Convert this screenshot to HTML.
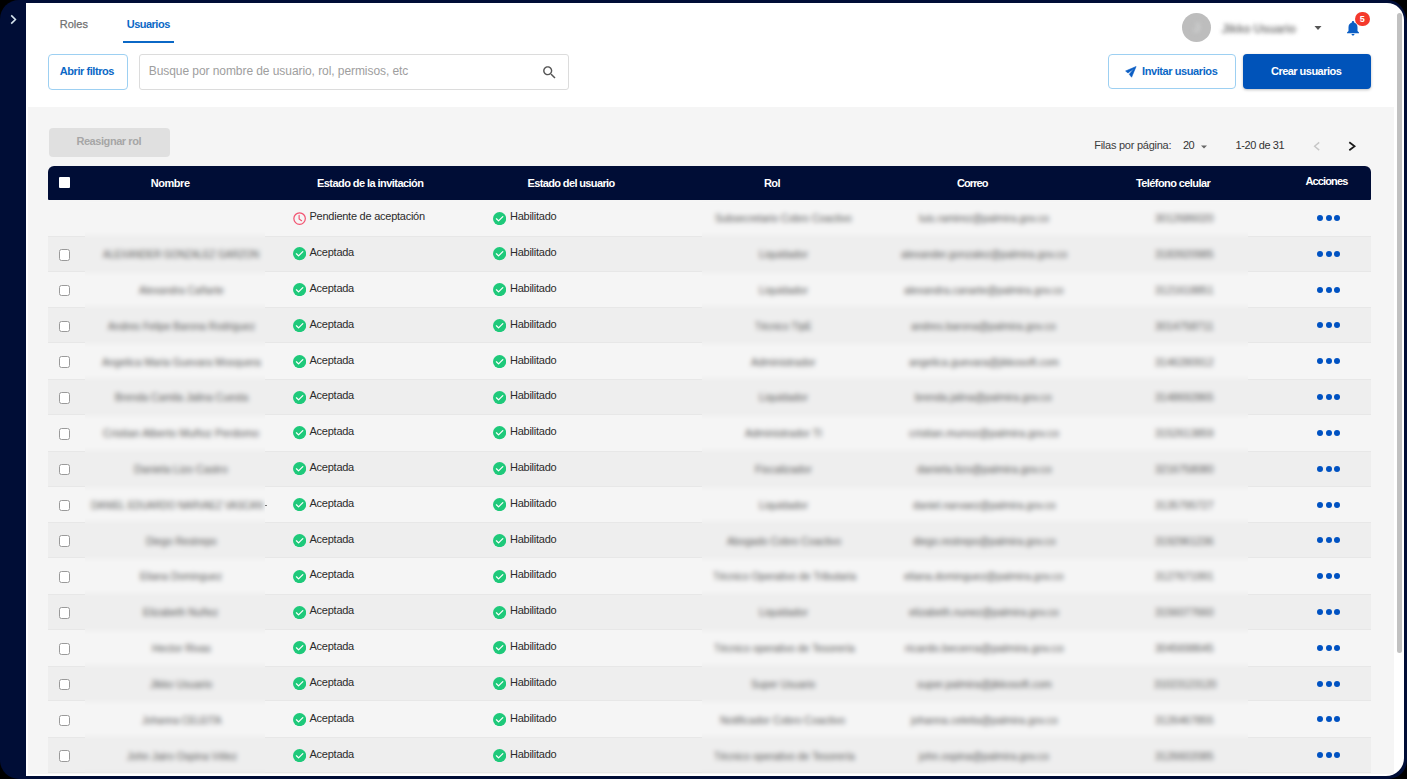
<!DOCTYPE html>
<html><head><meta charset="utf-8">
<style>
html,body{margin:0;padding:0;}
body{width:1407px;height:779px;overflow:hidden;background:#000;position:relative;font-family:"Liberation Sans",sans-serif;}
.frame{position:absolute;left:0;top:0;width:1407px;height:779px;background:#000d36;border-radius:19px 19px 19px 19px / 19px 24px 19px 19px;}
.panel{position:absolute;left:26px;top:3px;width:1378px;height:773px;background:#fff;border-radius:0 17px 18px 0;overflow:hidden;}
.grey{position:absolute;left:0;top:103px;width:1368px;height:670px;background:#f5f5f5;}
.t{position:absolute;white-space:nowrap;line-height:11px;font-size:11px;}
.row{position:absolute;left:48px;width:1323px;height:35.82px;background:#f5f5f5;}
.row.even{background:#eeeeee;box-shadow:inset 0 1px 0 #e7e7e7, inset 0 -1px 0 #e7e7e7;}
.cb{position:absolute;left:58.6px;width:11.4px;height:11.6px;box-sizing:border-box;border:1.25px solid #9a9a9a;border-radius:2.5px;background:#fff;}
.ic{position:absolute;width:13.2px;height:13.2px;}
.ic svg{display:block}
.td{color:#2b2b2b;letter-spacing:-0.25px;}
.dots{position:absolute;left:1317px;width:24px;height:6px;}
.dots i{position:absolute;top:0;width:6px;height:6px;border-radius:50%;background:#0052c2;}
.dots i:nth-child(1){left:0} .dots i:nth-child(2){left:8.6px} .dots i:nth-child(3){left:17.2px}
.bt{position:absolute;height:12px;font-size:11px;line-height:12px;color:#5a5a5a;text-align:left;white-space:nowrap;}
.bw{position:absolute;overflow:hidden;}
.bi{position:absolute;filter:blur(2.4px);}
.bu{position:absolute;height:12px;font-size:12px;line-height:12px;color:#858585;font-weight:700;letter-spacing:-0.35px;filter:blur(1.9px);white-space:nowrap;}
.th{position:absolute;white-space:nowrap;line-height:11px;font-size:11px;font-weight:700;color:#fff;}
</style></head><body>
<div class="frame"></div>
<svg style="position:absolute;left:9px;top:14px" width="9" height="11" viewBox="0 0 9 11"><path d="M2.2 1.4L6.4 5.5 2.2 9.6" stroke="#d5e4ee" stroke-width="1.6" fill="none"/></svg>
<div class="panel"><div class="grey" style="left:2px;top:104px;width:1366px;height:667px;"></div></div>
<!-- scrollbar -->
<div style="position:absolute;left:1396.7px;top:13px;width:5.6px;height:640px;border-radius:3px;background:#c1c1c1"></div>

<!-- tabs -->
<div class="t" style="left:59.8px;top:18.89px;color:#707070;-webkit-text-stroke:0.25px #707070">Roles</div>
<div class="t" style="left:126.7px;top:18.89px;color:#0b68c6;font-weight:700;letter-spacing:-0.5px">Usuarios</div>
<div style="position:absolute;left:123px;top:41px;width:51px;height:2px;background:#0b68c6"></div>

<!-- filter button -->
<div style="position:absolute;left:48px;top:54px;width:77.5px;height:33.5px;border:1px solid #9dd0f2;border-radius:4px;background:#fff"></div>
<div class="t" style="left:59.8px;top:65.59px;color:#0b68c6;font-weight:700;letter-spacing:-0.44px">Abrir filtros</div>
<!-- search -->
<div style="position:absolute;left:139px;top:54px;width:427.5px;height:33.5px;border:1px solid #dcdcdc;border-radius:3px;background:#fff"></div>
<div class="t" style="left:148.8px;top:65.44px;font-size:12px;line-height:12px;color:#9e9e9e;letter-spacing:-0.07px">Busque por nombre de usuario, rol, permisos, etc</div>
<svg style="position:absolute;left:540.7px;top:63.5px" width="17" height="17" viewBox="0 0 24 24"><path fill="#555" d="M15.5 14h-.79l-.28-.27C15.41 12.59 16 11.11 16 9.5 16 5.91 13.09 3 9.5 3S3 5.91 3 9.5 5.91 16 9.5 16c1.61 0 3.09-.59 4.23-1.57l.27.28v.79l5 4.99L20.49 19l-4.99-5zm-6 0C7.01 14 5 11.99 5 9.5S7.01 5 9.5 5 14 7.01 14 9.5 11.99 14 9.5 14z"/></svg>

<!-- user -->
<div style="position:absolute;left:1181.8px;top:13.3px;width:29.2px;height:29.2px;border-radius:50%;background:#bdbdbd"></div>
<div style="position:absolute;left:1190.5px;top:21px;width:12px;height:14px;color:#d4d6d6;font-size:13px;line-height:14px;font-weight:700;filter:blur(2px);text-align:center">J</div>
<div class="bu" style="left:1221.5px;top:22.5px;width:80px;">Jikko Usuario</div>
<svg style="position:absolute;left:1312px;top:22px" width="12" height="12" viewBox="0 0 24 24"><path fill="#555" d="M5 8l7 8 7-8z"/></svg>
<svg style="position:absolute;left:1344px;top:19px" width="18" height="18" viewBox="0 0 24 24"><path fill="#0b5ec4" d="M12 22c1.1 0 2-.9 2-2h-4c0 1.1.89 2 2 2zm6-6v-5c0-3.07-1.64-5.64-4.5-6.32V4c0-.83-.67-1.5-1.5-1.5s-1.5.67-1.5 1.5v.68C7.63 5.36 6 7.92 6 11v5l-2 2v1h16v-1l-2-2z"/></svg>
<div style="position:absolute;left:1355px;top:11.6px;width:14.7px;height:14.7px;border-radius:50%;background:#f4392c;color:#fff;font-size:9px;font-weight:700;line-height:14.7px;text-align:center">5</div>

<!-- right buttons -->
<div style="position:absolute;left:1107.8px;top:54.3px;width:126px;height:33px;border:1px solid #9dd0f2;border-radius:4px;background:#fff"></div>
<svg style="position:absolute;left:1124.5px;top:66px" width="12" height="12" viewBox="0 0 12 12"><path fill="#0b5ec4" stroke="#0b5ec4" stroke-width="0.6" stroke-linejoin="round" d="M11.1 0.5L0.6 5.0 3.0 7.0 8.9 2.7 4.3 8.3 6.6 11.2z"/></svg>
<div class="t" style="left:1142px;top:65.89px;color:#0b68c6;font-weight:700;letter-spacing:-0.41px">Invitar usuarios</div>
<div style="position:absolute;left:1243px;top:54.3px;width:127.8px;height:35px;border-radius:4px;background:#0053b9;box-shadow:0 1px 3px rgba(0,0,0,0.25)"></div>
<div class="t" style="left:1271px;top:65.89px;color:#fff;font-weight:700;letter-spacing:-0.53px">Crear usuarios</div>

<!-- reasignar -->
<div style="position:absolute;left:48.8px;top:127.6px;width:120.8px;height:29px;border-radius:4px;background:#e0e0e0"></div>
<div class="t" style="left:76.4px;top:135.89px;color:#a6a6a6;font-weight:700;letter-spacing:-0.43px">Reasignar rol</div>

<!-- pagination -->
<div class="t" style="left:1094.2px;top:140.39px;color:#3c3c3c;letter-spacing:-0.25px">Filas por página:</div>
<div class="t" style="left:1183px;top:139.89px;color:#333;letter-spacing:-0.6px">20</div>
<svg style="position:absolute;left:1197.5px;top:140.5px" width="12" height="12" viewBox="0 0 24 24"><path fill="#666" d="M6 9l6 6 6-6z"/></svg>
<div class="t" style="left:1235.6px;top:140.39px;color:#333;letter-spacing:-0.4px">1-20 de 31</div>
<svg style="position:absolute;left:1310px;top:138px" width="14" height="16" viewBox="0 0 14 16"><path d="M9.2 4.4L4.6 8.2 9.2 12.1" stroke="#c6c6c6" stroke-width="1.4" fill="none"/></svg>
<svg style="position:absolute;left:1345px;top:138px" width="14" height="16" viewBox="0 0 14 16"><path d="M4.3 4.3L9.6 8.3 4.3 12.3" stroke="#1a1a1a" stroke-width="1.7" fill="none"/></svg>

<!-- table header -->
<div style="position:absolute;left:48px;top:165.5px;width:1323px;height:34.5px;background:#000d36;border-radius:6px 6px 1px 1px"></div>
<div style="position:absolute;left:58.6px;top:176.7px;width:11.2px;height:11.3px;background:#fff;border-radius:1px"></div>
<div class="th" style="left:150.8px;top:178.09px;letter-spacing:-0.46px">Nombre</div>
<div class="th" style="left:317px;top:178.09px;letter-spacing:-0.56px">Estado de la invitación</div>
<div class="th" style="left:527.5px;top:178.09px;letter-spacing:-0.63px">Estado del usuario</div>
<div class="th" style="left:764px;top:178.09px;letter-spacing:-0.6px">Rol</div>
<div class="th" style="left:957px;top:178.09px;letter-spacing:-0.9px">Correo</div>
<div class="th" style="left:1136px;top:178.09px;letter-spacing:-0.59px">Teléfono celular</div>
<div class="th" style="left:1305.5px;top:176.19px;letter-spacing:-0.88px">Acciones</div>

<!-- rows -->
<div class="row" style="top:200.00px"></div><div class="row even" style="top:235.82px"></div><div class="row" style="top:271.64px"></div><div class="row even" style="top:307.46px"></div><div class="row" style="top:343.28px"></div><div class="row even" style="top:379.10px"></div><div class="row" style="top:414.92px"></div><div class="row even" style="top:450.74px"></div><div class="row" style="top:486.56px"></div><div class="row even" style="top:522.38px"></div><div class="row" style="top:558.20px"></div><div class="row even" style="top:594.02px"></div><div class="row" style="top:629.84px"></div><div class="row even" style="top:665.66px"></div><div class="row" style="top:701.48px"></div><div class="row even" style="top:737.30px"></div><div class="ic" style="left:292.6px;top:211.50px"><svg viewBox="0 0 14 14" width="13.2" height="13.2"><circle cx="7" cy="7" r="6.1" stroke="#f25471" stroke-width="1.3" fill="none"/><path d="M6.5 3.6V7.3l2.6 2" stroke="#f25471" stroke-width="1.2" fill="none" stroke-linecap="round"/></svg></div><div class="t td" style="left:309.5px;top:211.39px">Pendiente de aceptación</div><div class="ic" style="left:492.7px;top:211.50px"><svg viewBox="2 2 20 20" width="13.2" height="13.2"><circle cx="12" cy="12" r="10" fill="#1ec97a"/><path d="M7.2 12.3l3.2 3.1 6.5-6.4" stroke="#fff" stroke-width="1.9" fill="none" stroke-linecap="round" stroke-linejoin="round"/></svg></div><div class="t td" style="left:510px;top:211.29px">Habilitado</div><div class="dots" style="top:215.00px"><i></i><i></i><i></i></div><div class="cb" style="top:248.92px"></div><div class="ic" style="left:292.6px;top:247.32px"><svg viewBox="2 2 20 20" width="13.2" height="13.2"><circle cx="12" cy="12" r="10" fill="#1ec97a"/><path d="M7.2 12.3l3.2 3.1 6.5-6.4" stroke="#fff" stroke-width="1.9" fill="none" stroke-linecap="round" stroke-linejoin="round"/></svg></div><div class="t td" style="left:309.5px;top:247.11px">Aceptada</div><div class="ic" style="left:492.7px;top:247.32px"><svg viewBox="2 2 20 20" width="13.2" height="13.2"><circle cx="12" cy="12" r="10" fill="#1ec97a"/><path d="M7.2 12.3l3.2 3.1 6.5-6.4" stroke="#fff" stroke-width="1.9" fill="none" stroke-linecap="round" stroke-linejoin="round"/></svg></div><div class="t td" style="left:510px;top:247.11px">Habilitado</div><div class="dots" style="top:250.82px"><i></i><i></i><i></i></div><div class="cb" style="top:284.74px"></div><div class="ic" style="left:292.6px;top:283.14px"><svg viewBox="2 2 20 20" width="13.2" height="13.2"><circle cx="12" cy="12" r="10" fill="#1ec97a"/><path d="M7.2 12.3l3.2 3.1 6.5-6.4" stroke="#fff" stroke-width="1.9" fill="none" stroke-linecap="round" stroke-linejoin="round"/></svg></div><div class="t td" style="left:309.5px;top:282.93px">Aceptada</div><div class="ic" style="left:492.7px;top:283.14px"><svg viewBox="2 2 20 20" width="13.2" height="13.2"><circle cx="12" cy="12" r="10" fill="#1ec97a"/><path d="M7.2 12.3l3.2 3.1 6.5-6.4" stroke="#fff" stroke-width="1.9" fill="none" stroke-linecap="round" stroke-linejoin="round"/></svg></div><div class="t td" style="left:510px;top:282.93px">Habilitado</div><div class="dots" style="top:286.64px"><i></i><i></i><i></i></div><div class="cb" style="top:320.56px"></div><div class="ic" style="left:292.6px;top:318.96px"><svg viewBox="2 2 20 20" width="13.2" height="13.2"><circle cx="12" cy="12" r="10" fill="#1ec97a"/><path d="M7.2 12.3l3.2 3.1 6.5-6.4" stroke="#fff" stroke-width="1.9" fill="none" stroke-linecap="round" stroke-linejoin="round"/></svg></div><div class="t td" style="left:309.5px;top:318.75px">Aceptada</div><div class="ic" style="left:492.7px;top:318.96px"><svg viewBox="2 2 20 20" width="13.2" height="13.2"><circle cx="12" cy="12" r="10" fill="#1ec97a"/><path d="M7.2 12.3l3.2 3.1 6.5-6.4" stroke="#fff" stroke-width="1.9" fill="none" stroke-linecap="round" stroke-linejoin="round"/></svg></div><div class="t td" style="left:510px;top:318.75px">Habilitado</div><div class="dots" style="top:322.46px"><i></i><i></i><i></i></div><div class="cb" style="top:356.38px"></div><div class="ic" style="left:292.6px;top:354.78px"><svg viewBox="2 2 20 20" width="13.2" height="13.2"><circle cx="12" cy="12" r="10" fill="#1ec97a"/><path d="M7.2 12.3l3.2 3.1 6.5-6.4" stroke="#fff" stroke-width="1.9" fill="none" stroke-linecap="round" stroke-linejoin="round"/></svg></div><div class="t td" style="left:309.5px;top:354.57px">Aceptada</div><div class="ic" style="left:492.7px;top:354.78px"><svg viewBox="2 2 20 20" width="13.2" height="13.2"><circle cx="12" cy="12" r="10" fill="#1ec97a"/><path d="M7.2 12.3l3.2 3.1 6.5-6.4" stroke="#fff" stroke-width="1.9" fill="none" stroke-linecap="round" stroke-linejoin="round"/></svg></div><div class="t td" style="left:510px;top:354.57px">Habilitado</div><div class="dots" style="top:358.28px"><i></i><i></i><i></i></div><div class="cb" style="top:392.20px"></div><div class="ic" style="left:292.6px;top:390.60px"><svg viewBox="2 2 20 20" width="13.2" height="13.2"><circle cx="12" cy="12" r="10" fill="#1ec97a"/><path d="M7.2 12.3l3.2 3.1 6.5-6.4" stroke="#fff" stroke-width="1.9" fill="none" stroke-linecap="round" stroke-linejoin="round"/></svg></div><div class="t td" style="left:309.5px;top:390.39px">Aceptada</div><div class="ic" style="left:492.7px;top:390.60px"><svg viewBox="2 2 20 20" width="13.2" height="13.2"><circle cx="12" cy="12" r="10" fill="#1ec97a"/><path d="M7.2 12.3l3.2 3.1 6.5-6.4" stroke="#fff" stroke-width="1.9" fill="none" stroke-linecap="round" stroke-linejoin="round"/></svg></div><div class="t td" style="left:510px;top:390.39px">Habilitado</div><div class="dots" style="top:394.10px"><i></i><i></i><i></i></div><div class="cb" style="top:428.02px"></div><div class="ic" style="left:292.6px;top:426.42px"><svg viewBox="2 2 20 20" width="13.2" height="13.2"><circle cx="12" cy="12" r="10" fill="#1ec97a"/><path d="M7.2 12.3l3.2 3.1 6.5-6.4" stroke="#fff" stroke-width="1.9" fill="none" stroke-linecap="round" stroke-linejoin="round"/></svg></div><div class="t td" style="left:309.5px;top:426.21px">Aceptada</div><div class="ic" style="left:492.7px;top:426.42px"><svg viewBox="2 2 20 20" width="13.2" height="13.2"><circle cx="12" cy="12" r="10" fill="#1ec97a"/><path d="M7.2 12.3l3.2 3.1 6.5-6.4" stroke="#fff" stroke-width="1.9" fill="none" stroke-linecap="round" stroke-linejoin="round"/></svg></div><div class="t td" style="left:510px;top:426.21px">Habilitado</div><div class="dots" style="top:429.92px"><i></i><i></i><i></i></div><div class="cb" style="top:463.84px"></div><div class="ic" style="left:292.6px;top:462.24px"><svg viewBox="2 2 20 20" width="13.2" height="13.2"><circle cx="12" cy="12" r="10" fill="#1ec97a"/><path d="M7.2 12.3l3.2 3.1 6.5-6.4" stroke="#fff" stroke-width="1.9" fill="none" stroke-linecap="round" stroke-linejoin="round"/></svg></div><div class="t td" style="left:309.5px;top:462.03px">Aceptada</div><div class="ic" style="left:492.7px;top:462.24px"><svg viewBox="2 2 20 20" width="13.2" height="13.2"><circle cx="12" cy="12" r="10" fill="#1ec97a"/><path d="M7.2 12.3l3.2 3.1 6.5-6.4" stroke="#fff" stroke-width="1.9" fill="none" stroke-linecap="round" stroke-linejoin="round"/></svg></div><div class="t td" style="left:510px;top:462.03px">Habilitado</div><div class="dots" style="top:465.74px"><i></i><i></i><i></i></div><div class="cb" style="top:499.66px"></div><div class="ic" style="left:292.6px;top:498.06px"><svg viewBox="2 2 20 20" width="13.2" height="13.2"><circle cx="12" cy="12" r="10" fill="#1ec97a"/><path d="M7.2 12.3l3.2 3.1 6.5-6.4" stroke="#fff" stroke-width="1.9" fill="none" stroke-linecap="round" stroke-linejoin="round"/></svg></div><div class="t td" style="left:309.5px;top:497.85px">Aceptada</div><div class="ic" style="left:492.7px;top:498.06px"><svg viewBox="2 2 20 20" width="13.2" height="13.2"><circle cx="12" cy="12" r="10" fill="#1ec97a"/><path d="M7.2 12.3l3.2 3.1 6.5-6.4" stroke="#fff" stroke-width="1.9" fill="none" stroke-linecap="round" stroke-linejoin="round"/></svg></div><div class="t td" style="left:510px;top:497.85px">Habilitado</div><div class="dots" style="top:501.56px"><i></i><i></i><i></i></div><div class="cb" style="top:535.48px"></div><div class="ic" style="left:292.6px;top:533.88px"><svg viewBox="2 2 20 20" width="13.2" height="13.2"><circle cx="12" cy="12" r="10" fill="#1ec97a"/><path d="M7.2 12.3l3.2 3.1 6.5-6.4" stroke="#fff" stroke-width="1.9" fill="none" stroke-linecap="round" stroke-linejoin="round"/></svg></div><div class="t td" style="left:309.5px;top:533.67px">Aceptada</div><div class="ic" style="left:492.7px;top:533.88px"><svg viewBox="2 2 20 20" width="13.2" height="13.2"><circle cx="12" cy="12" r="10" fill="#1ec97a"/><path d="M7.2 12.3l3.2 3.1 6.5-6.4" stroke="#fff" stroke-width="1.9" fill="none" stroke-linecap="round" stroke-linejoin="round"/></svg></div><div class="t td" style="left:510px;top:533.67px">Habilitado</div><div class="dots" style="top:537.38px"><i></i><i></i><i></i></div><div class="cb" style="top:571.30px"></div><div class="ic" style="left:292.6px;top:569.70px"><svg viewBox="2 2 20 20" width="13.2" height="13.2"><circle cx="12" cy="12" r="10" fill="#1ec97a"/><path d="M7.2 12.3l3.2 3.1 6.5-6.4" stroke="#fff" stroke-width="1.9" fill="none" stroke-linecap="round" stroke-linejoin="round"/></svg></div><div class="t td" style="left:309.5px;top:569.49px">Aceptada</div><div class="ic" style="left:492.7px;top:569.70px"><svg viewBox="2 2 20 20" width="13.2" height="13.2"><circle cx="12" cy="12" r="10" fill="#1ec97a"/><path d="M7.2 12.3l3.2 3.1 6.5-6.4" stroke="#fff" stroke-width="1.9" fill="none" stroke-linecap="round" stroke-linejoin="round"/></svg></div><div class="t td" style="left:510px;top:569.49px">Habilitado</div><div class="dots" style="top:573.20px"><i></i><i></i><i></i></div><div class="cb" style="top:607.12px"></div><div class="ic" style="left:292.6px;top:605.52px"><svg viewBox="2 2 20 20" width="13.2" height="13.2"><circle cx="12" cy="12" r="10" fill="#1ec97a"/><path d="M7.2 12.3l3.2 3.1 6.5-6.4" stroke="#fff" stroke-width="1.9" fill="none" stroke-linecap="round" stroke-linejoin="round"/></svg></div><div class="t td" style="left:309.5px;top:605.31px">Aceptada</div><div class="ic" style="left:492.7px;top:605.52px"><svg viewBox="2 2 20 20" width="13.2" height="13.2"><circle cx="12" cy="12" r="10" fill="#1ec97a"/><path d="M7.2 12.3l3.2 3.1 6.5-6.4" stroke="#fff" stroke-width="1.9" fill="none" stroke-linecap="round" stroke-linejoin="round"/></svg></div><div class="t td" style="left:510px;top:605.31px">Habilitado</div><div class="dots" style="top:609.02px"><i></i><i></i><i></i></div><div class="cb" style="top:642.94px"></div><div class="ic" style="left:292.6px;top:641.34px"><svg viewBox="2 2 20 20" width="13.2" height="13.2"><circle cx="12" cy="12" r="10" fill="#1ec97a"/><path d="M7.2 12.3l3.2 3.1 6.5-6.4" stroke="#fff" stroke-width="1.9" fill="none" stroke-linecap="round" stroke-linejoin="round"/></svg></div><div class="t td" style="left:309.5px;top:641.13px">Aceptada</div><div class="ic" style="left:492.7px;top:641.34px"><svg viewBox="2 2 20 20" width="13.2" height="13.2"><circle cx="12" cy="12" r="10" fill="#1ec97a"/><path d="M7.2 12.3l3.2 3.1 6.5-6.4" stroke="#fff" stroke-width="1.9" fill="none" stroke-linecap="round" stroke-linejoin="round"/></svg></div><div class="t td" style="left:510px;top:641.13px">Habilitado</div><div class="dots" style="top:644.84px"><i></i><i></i><i></i></div><div class="cb" style="top:678.76px"></div><div class="ic" style="left:292.6px;top:677.16px"><svg viewBox="2 2 20 20" width="13.2" height="13.2"><circle cx="12" cy="12" r="10" fill="#1ec97a"/><path d="M7.2 12.3l3.2 3.1 6.5-6.4" stroke="#fff" stroke-width="1.9" fill="none" stroke-linecap="round" stroke-linejoin="round"/></svg></div><div class="t td" style="left:309.5px;top:676.95px">Aceptada</div><div class="ic" style="left:492.7px;top:677.16px"><svg viewBox="2 2 20 20" width="13.2" height="13.2"><circle cx="12" cy="12" r="10" fill="#1ec97a"/><path d="M7.2 12.3l3.2 3.1 6.5-6.4" stroke="#fff" stroke-width="1.9" fill="none" stroke-linecap="round" stroke-linejoin="round"/></svg></div><div class="t td" style="left:510px;top:676.95px">Habilitado</div><div class="dots" style="top:680.66px"><i></i><i></i><i></i></div><div class="cb" style="top:714.58px"></div><div class="ic" style="left:292.6px;top:712.98px"><svg viewBox="2 2 20 20" width="13.2" height="13.2"><circle cx="12" cy="12" r="10" fill="#1ec97a"/><path d="M7.2 12.3l3.2 3.1 6.5-6.4" stroke="#fff" stroke-width="1.9" fill="none" stroke-linecap="round" stroke-linejoin="round"/></svg></div><div class="t td" style="left:309.5px;top:712.77px">Aceptada</div><div class="ic" style="left:492.7px;top:712.98px"><svg viewBox="2 2 20 20" width="13.2" height="13.2"><circle cx="12" cy="12" r="10" fill="#1ec97a"/><path d="M7.2 12.3l3.2 3.1 6.5-6.4" stroke="#fff" stroke-width="1.9" fill="none" stroke-linecap="round" stroke-linejoin="round"/></svg></div><div class="t td" style="left:510px;top:712.77px">Habilitado</div><div class="dots" style="top:716.48px"><i></i><i></i><i></i></div><div class="cb" style="top:750.40px"></div><div class="ic" style="left:292.6px;top:748.80px"><svg viewBox="2 2 20 20" width="13.2" height="13.2"><circle cx="12" cy="12" r="10" fill="#1ec97a"/><path d="M7.2 12.3l3.2 3.1 6.5-6.4" stroke="#fff" stroke-width="1.9" fill="none" stroke-linecap="round" stroke-linejoin="round"/></svg></div><div class="t td" style="left:309.5px;top:748.59px">Aceptada</div><div class="ic" style="left:492.7px;top:748.80px"><svg viewBox="2 2 20 20" width="13.2" height="13.2"><circle cx="12" cy="12" r="10" fill="#1ec97a"/><path d="M7.2 12.3l3.2 3.1 6.5-6.4" stroke="#fff" stroke-width="1.9" fill="none" stroke-linecap="round" stroke-linejoin="round"/></svg></div><div class="t td" style="left:510px;top:748.59px">Habilitado</div><div class="dots" style="top:752.30px"><i></i><i></i><i></i></div>
<div class="bw" style="left:85px;top:200.0px;width:180px;height:573.12px"><div class="bi" style="left:-12px;top:-12px;width:204px;height:597.12px"><div class="row" style="left:-25.00px;top:12.00px"></div><div class="row even" style="left:-25.00px;top:47.82px"></div><div class="row" style="left:-25.00px;top:83.64px"></div><div class="row even" style="left:-25.00px;top:119.46px"></div><div class="row" style="left:-25.00px;top:155.28px"></div><div class="row even" style="left:-25.00px;top:191.10px"></div><div class="row" style="left:-25.00px;top:226.92px"></div><div class="row even" style="left:-25.00px;top:262.74px"></div><div class="row" style="left:-25.00px;top:298.56px"></div><div class="row even" style="left:-25.00px;top:334.38px"></div><div class="row" style="left:-25.00px;top:370.20px"></div><div class="row even" style="left:-25.00px;top:406.02px"></div><div class="row" style="left:-25.00px;top:441.84px"></div><div class="row even" style="left:-25.00px;top:477.66px"></div><div class="row" style="left:-25.00px;top:513.48px"></div><div class="row even" style="left:-25.00px;top:549.30px"></div><div class="bt" style="left:30.0px;top:60.0px;width:156.1px"><span style="display:inline-block;white-space:nowrap;transform-origin:0 0;transform:scaleX(0.8716)">ALEXANDER GONZALEZ GARZON</span></div><div class="bt" style="left:65.8px;top:95.8px;width:84.6px"><span style="display:inline-block;white-space:nowrap;transform-origin:0 0;transform:scaleX(0.9222)">Alexandra Cañarte</span></div><div class="bt" style="left:34.6px;top:131.7px;width:147.0px"><span style="display:inline-block;white-space:nowrap;transform-origin:0 0;transform:scaleX(0.9211)">Andres Felipe Barona Rodriguez</span></div><div class="bt" style="left:29.0px;top:167.5px;width:158.8px"><span style="display:inline-block;white-space:nowrap;transform-origin:0 0;transform:scaleX(0.9342)">Angelica Maria Guevara Mosquera</span></div><div class="bt" style="left:41.5px;top:203.3px;width:133.2px"><span style="display:inline-block;white-space:nowrap;transform-origin:0 0;transform:scaleX(0.9349)">Brenda Camila Jalina Cuesta</span></div><div class="bt" style="left:30.0px;top:239.1px;width:156.0px"><span style="display:inline-block;white-space:nowrap;transform-origin:0 0;transform:scaleX(0.9851)">Cristian Alberto Muñoz Perdomo</span></div><div class="bt" style="left:61.3px;top:274.9px;width:93.6px"><span style="display:inline-block;white-space:nowrap;transform-origin:0 0;transform:scaleX(0.9750)">Daniela Lizo Castro</span></div><div class="bt" style="left:17.7px;top:310.8px;width:172.1px"><span style="display:inline-block;white-space:nowrap;transform-origin:0 0;transform:scaleX(0.8654)">DANIEL EDUARDO NARVAEZ VASCAN</span></div><div class="bt" style="left:72.5px;top:346.6px;width:70.8px"><span style="display:inline-block;white-space:nowrap;transform-origin:0 0;transform:scaleX(0.9262)">Diego Restrepo</span></div><div class="bt" style="left:66.9px;top:382.4px;width:82.0px"><span style="display:inline-block;white-space:nowrap;transform-origin:0 0;transform:scaleX(0.9184)">Eliana Dominguez</span></div><div class="bt" style="left:69.9px;top:418.2px;width:75.2px"><span style="display:inline-block;white-space:nowrap;transform-origin:0 0;transform:scaleX(0.9387)">Elizabeth Nuñez</span></div><div class="bt" style="left:78.8px;top:454.0px;width:58.9px"><span style="display:inline-block;white-space:nowrap;transform-origin:0 0;transform:scaleX(0.9354)">Hector Rivas</span></div><div class="bt" style="left:77.3px;top:489.9px;width:62.2px"><span style="display:inline-block;white-space:nowrap;transform-origin:0 0;transform:scaleX(0.9420)">Jikko Usuario</span></div><div class="bt" style="left:68.7px;top:525.7px;width:79.4px"><span style="display:inline-block;white-space:nowrap;transform-origin:0 0;transform:scaleX(0.8793)">Johanna CELEITA</span></div><div class="bt" style="left:53.8px;top:561.5px;width:110.0px"><span style="display:inline-block;white-space:nowrap;transform-origin:0 0;transform:scaleX(0.9226)">John Jairo Ospina Vélez</span></div></div></div><div class="bw" style="left:702px;top:200.0px;width:546px;height:573.12px"><div class="bi" style="left:-12px;top:-12px;width:570px;height:597.12px"><div class="row" style="left:-642.00px;top:12.00px"></div><div class="row even" style="left:-642.00px;top:47.82px"></div><div class="row" style="left:-642.00px;top:83.64px"></div><div class="row even" style="left:-642.00px;top:119.46px"></div><div class="row" style="left:-642.00px;top:155.28px"></div><div class="row even" style="left:-642.00px;top:191.10px"></div><div class="row" style="left:-642.00px;top:226.92px"></div><div class="row even" style="left:-642.00px;top:262.74px"></div><div class="row" style="left:-642.00px;top:298.56px"></div><div class="row even" style="left:-642.00px;top:334.38px"></div><div class="row" style="left:-642.00px;top:370.20px"></div><div class="row even" style="left:-642.00px;top:406.02px"></div><div class="row" style="left:-642.00px;top:441.84px"></div><div class="row even" style="left:-642.00px;top:477.66px"></div><div class="row" style="left:-642.00px;top:513.48px"></div><div class="row even" style="left:-642.00px;top:549.30px"></div><div class="bt" style="left:24.9px;top:24.2px;width:136.8px"><span style="display:inline-block;white-space:nowrap;transform-origin:0 0;transform:scaleX(0.9322)">Subsecretario Cobro Coactivo</span></div><div class="bt" style="left:228.9px;top:24.2px;width:130.1px"><span style="display:inline-block;white-space:nowrap;transform-origin:0 0;transform:scaleX(0.9419)">luis.ramirez@palmira.gov.co</span></div><div class="bt" style="left:465.4px;top:24.2px;width:58.6px"><span style="display:inline-block;white-space:nowrap;transform-origin:0 0;transform:scaleX(0.9577)">3012686020</span></div><div class="bt" style="left:68.6px;top:60.0px;width:48.9px"><span style="display:inline-block;white-space:nowrap;transform-origin:0 0;transform:scaleX(0.9518)">Liquidador</span></div><div class="bt" style="left:211.3px;top:60.0px;width:166.2px"><span style="display:inline-block;white-space:nowrap;transform-origin:0 0;transform:scaleX(0.9406)">alexander.gonzalez@palmira.gov.co</span></div><div class="bt" style="left:465.4px;top:60.0px;width:58.6px"><span style="display:inline-block;white-space:nowrap;transform-origin:0 0;transform:scaleX(0.9577)">3183920985</span></div><div class="bt" style="left:68.6px;top:95.8px;width:48.9px"><span style="display:inline-block;white-space:nowrap;transform-origin:0 0;transform:scaleX(0.9518)">Liquidador</span></div><div class="bt" style="left:214.0px;top:95.8px;width:159.6px"><span style="display:inline-block;white-space:nowrap;transform-origin:0 0;transform:scaleX(0.9391)">alexandra.canarte@palmira.gov.co</span></div><div class="bt" style="left:465.4px;top:95.8px;width:58.6px"><span style="display:inline-block;white-space:nowrap;transform-origin:0 0;transform:scaleX(0.9577)">3121618851</span></div><div class="bt" style="left:64.7px;top:131.7px;width:56.7px"><span style="display:inline-block;white-space:nowrap;transform-origin:0 0;transform:scaleX(0.8776)">Técnico TIpE</span></div><div class="bt" style="left:221.0px;top:131.7px;width:144.7px"><span style="display:inline-block;white-space:nowrap;transform-origin:0 0;transform:scaleX(0.9468)">andres.barona@palmira.gov.co</span></div><div class="bt" style="left:465.4px;top:131.7px;width:58.6px"><span style="display:inline-block;white-space:nowrap;transform-origin:0 0;transform:scaleX(0.9706)">3014758711</span></div><div class="bt" style="left:60.8px;top:167.5px;width:64.5px"><span style="display:inline-block;white-space:nowrap;transform-origin:0 0;transform:scaleX(0.9505)">Administrador</span></div><div class="bt" style="left:219.0px;top:167.5px;width:149.9px"><span style="display:inline-block;white-space:nowrap;transform-origin:0 0;transform:scaleX(0.9456)">angelica.guevara@jikkosoft.com</span></div><div class="bt" style="left:465.4px;top:167.5px;width:58.6px"><span style="display:inline-block;white-space:nowrap;transform-origin:0 0;transform:scaleX(0.9577)">3146280912</span></div><div class="bt" style="left:68.6px;top:203.3px;width:48.9px"><span style="display:inline-block;white-space:nowrap;transform-origin:0 0;transform:scaleX(0.9518)">Liquidador</span></div><div class="bt" style="left:225.0px;top:203.3px;width:136.8px"><span style="display:inline-block;white-space:nowrap;transform-origin:0 0;transform:scaleX(0.9443)">brenda.jalina@palmira.gov.co</span></div><div class="bt" style="left:465.4px;top:203.3px;width:58.6px"><span style="display:inline-block;white-space:nowrap;transform-origin:0 0;transform:scaleX(0.9577)">3148692865</span></div><div class="bt" style="left:55.0px;top:239.1px;width:77.0px"><span style="display:inline-block;white-space:nowrap;transform-origin:0 0;transform:scaleX(0.9565)">Administrador TI</span></div><div class="bt" style="left:219.0px;top:239.1px;width:149.9px"><span style="display:inline-block;white-space:nowrap;transform-origin:0 0;transform:scaleX(0.9810)">cristian.munoz@palmira.gov.co</span></div><div class="bt" style="left:465.4px;top:239.1px;width:58.6px"><span style="display:inline-block;white-space:nowrap;transform-origin:0 0;transform:scaleX(0.9577)">3152613859</span></div><div class="bt" style="left:64.7px;top:274.9px;width:56.7px"><span style="display:inline-block;white-space:nowrap;transform-origin:0 0;transform:scaleX(0.9661)">Fiscalizador</span></div><div class="bt" style="left:227.0px;top:274.9px;width:134.8px"><span style="display:inline-block;white-space:nowrap;transform-origin:0 0;transform:scaleX(0.9845)">daniela.lizo@palmira.gov.co</span></div><div class="bt" style="left:465.4px;top:274.9px;width:58.6px"><span style="display:inline-block;white-space:nowrap;transform-origin:0 0;transform:scaleX(0.9577)">3216758080</span></div><div class="bt" style="left:68.6px;top:310.8px;width:48.9px"><span style="display:inline-block;white-space:nowrap;transform-origin:0 0;transform:scaleX(0.9518)">Liquidador</span></div><div class="bt" style="left:223.0px;top:310.8px;width:142.7px"><span style="display:inline-block;white-space:nowrap;transform-origin:0 0;transform:scaleX(0.9300)">daniel.narvaez@palmira.gov.co</span></div><div class="bt" style="left:465.4px;top:310.8px;width:58.6px"><span style="display:inline-block;white-space:nowrap;transform-origin:0 0;transform:scaleX(0.9577)">3135795727</span></div><div class="bt" style="left:36.6px;top:346.6px;width:114.1px"><span style="display:inline-block;white-space:nowrap;transform-origin:0 0;transform:scaleX(0.9282)">Abogado Cobro Coactivo</span></div><div class="bt" style="left:223.0px;top:346.6px;width:142.7px"><span style="display:inline-block;white-space:nowrap;transform-origin:0 0;transform:scaleX(0.9375)">diego.restrepo@palmira.gov.co</span></div><div class="bt" style="left:465.4px;top:346.6px;width:58.6px"><span style="display:inline-block;white-space:nowrap;transform-origin:0 0;transform:scaleX(0.9577)">3192961236</span></div><div class="bt" style="left:22.5px;top:382.4px;width:143.1px"><span style="display:inline-block;white-space:nowrap;transform-origin:0 0;transform:scaleX(0.9324)">Técnico Operativo de Tributaria</span></div><div class="bt" style="left:214.0px;top:382.4px;width:159.6px"><span style="display:inline-block;white-space:nowrap;transform-origin:0 0;transform:scaleX(0.9493)">eliana.dominguez@palmira.gov.co</span></div><div class="bt" style="left:465.4px;top:382.4px;width:58.6px"><span style="display:inline-block;white-space:nowrap;transform-origin:0 0;transform:scaleX(0.9577)">3127671991</span></div><div class="bt" style="left:68.6px;top:418.2px;width:48.9px"><span style="display:inline-block;white-space:nowrap;transform-origin:0 0;transform:scaleX(0.9518)">Liquidador</span></div><div class="bt" style="left:219.0px;top:418.2px;width:149.9px"><span style="display:inline-block;white-space:nowrap;transform-origin:0 0;transform:scaleX(0.9430)">elizabeth.nunez@palmira.gov.co</span></div><div class="bt" style="left:465.4px;top:418.2px;width:58.6px"><span style="display:inline-block;white-space:nowrap;transform-origin:0 0;transform:scaleX(0.9577)">3156077660</span></div><div class="bt" style="left:23.7px;top:454.0px;width:140.7px"><span style="display:inline-block;white-space:nowrap;transform-origin:0 0;transform:scaleX(0.9328)">Técnico operativo de Tesorería</span></div><div class="bt" style="left:215.0px;top:454.0px;width:158.6px"><span style="display:inline-block;white-space:nowrap;transform-origin:0 0;transform:scaleX(1.0176)">ricardo.becerra@palmira.gov.co</span></div><div class="bt" style="left:465.4px;top:454.0px;width:58.6px"><span style="display:inline-block;white-space:nowrap;transform-origin:0 0;transform:scaleX(0.9577)">3045698645</span></div><div class="bt" style="left:60.8px;top:489.9px;width:64.5px"><span style="display:inline-block;white-space:nowrap;transform-origin:0 0;transform:scaleX(0.9171)">Super Usuario</span></div><div class="bt" style="left:227.0px;top:489.9px;width:134.8px"><span style="display:inline-block;white-space:nowrap;transform-origin:0 0;transform:scaleX(0.9575)">super.palmira@jikkosoft.com</span></div><div class="bt" style="left:463.5px;top:489.9px;width:62.5px"><span style="display:inline-block;white-space:nowrap;transform-origin:0 0;transform:scaleX(0.9287)">31023123120</span></div><div class="bt" style="left:30.3px;top:525.7px;width:125.1px"><span style="display:inline-block;white-space:nowrap;transform-origin:0 0;transform:scaleX(0.9517)">Notificador Cobro Coactivo</span></div><div class="bt" style="left:221.0px;top:525.7px;width:146.7px"><span style="display:inline-block;white-space:nowrap;transform-origin:0 0;transform:scaleX(0.9410)">johanna.celeita@palmira.gov.co</span></div><div class="bt" style="left:465.4px;top:525.7px;width:58.6px"><span style="display:inline-block;white-space:nowrap;transform-origin:0 0;transform:scaleX(0.9577)">3126467855</span></div><div class="bt" style="left:23.7px;top:561.5px;width:140.7px"><span style="display:inline-block;white-space:nowrap;transform-origin:0 0;transform:scaleX(0.9328)">Técnico operativo de Tesorería</span></div><div class="bt" style="left:229.0px;top:561.5px;width:130.0px"><span style="display:inline-block;white-space:nowrap;transform-origin:0 0;transform:scaleX(0.9410)">john.ospina@palmira.gov.co</span></div><div class="bt" style="left:465.4px;top:561.5px;width:58.6px"><span style="display:inline-block;white-space:nowrap;transform-origin:0 0;transform:scaleX(0.9577)">3126602085</span></div></div></div>
<div style="position:absolute;left:265px;top:504.6px;width:1.5px;height:1.5px;background:#777"></div>

</body></html>
